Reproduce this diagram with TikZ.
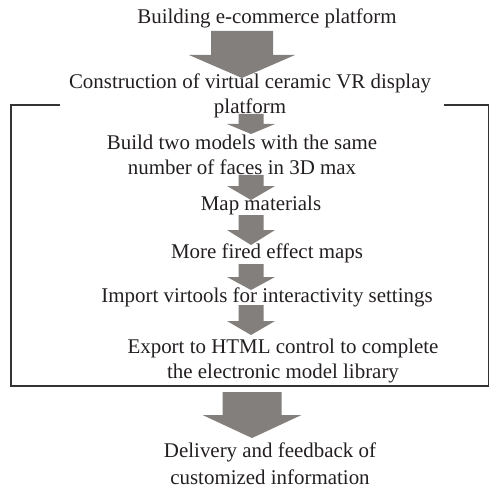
\documentclass[tikz,border=0pt]{standalone}
\usepackage{fontspec}
\setmainfont{Liberation Serif}
\definecolor{arrowgray}{RGB}{130,127,124}
\definecolor{textdark}{RGB}{35,31,32}
\newcommand{\blockarrow}[6]{\fill[arrowgray] (#1-#5,#2) -- (#1+#5,#2) -- (#1+#5,#3) -- (#1+#6,#3) -- (#1,#4) -- (#1-#6,#3) -- (#1-#5,#3) -- cycle;}
\begin{document}
\begin{tikzpicture}[x=1bp, y=-1bp,
  every node/.style={font=\fontsize{21}{25}\selectfont, text=textdark, align=center, inner sep=0pt}]
\useasboundingbox (0,0) rectangle (490,489);
\draw[line width=1.3bp, black!80] (60,105) -- (11,105) -- (11,386) -- (488.5,386) -- (488.5,105) -- (444,105);
\blockarrow{242}{31}{55}{78}{31}{53}
\blockarrow{251}{114}{124}{134}{12.5}{24}
\blockarrow{251}{175}{186}{200}{12.5}{24}
\blockarrow{251}{215}{230}{245}{12.5}{24}
\blockarrow{251}{264}{277}{290}{12.5}{24}
\blockarrow{251}{305}{321}{335}{12.5}{24}
\blockarrow{252}{392}{415}{438}{29.5}{49.5}
\node (build) at (267,18) {Building e-commerce platform};
\node (construct) at (250,96) {Construction of virtual ceramic VR display\\platform};
\node (models) at (242,155) {Build two models with the same\\number of faces in 3D max};
\node (map) at (261,205) {Map materials};
\node (fired) at (267,253) {More fired effect maps};
\node (virtools) at (267,297) {Import virtools for interactivity settings};
\node (export) at (283,361) {Export to HTML control to complete\\the electronic model library};
\node[font=\fontsize{21}{27}\selectfont] (delivery) at (270,464) {Delivery and feedback of\\customized information};
\end{tikzpicture}
\end{document}
